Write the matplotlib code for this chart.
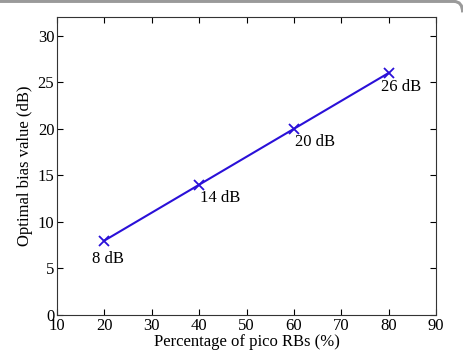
import matplotlib.pyplot as plt
from matplotlib.path import Path
from matplotlib.patches import PathPatch

pico_pct = [20, 40, 60, 80]
bias_db = [8, 14, 20, 26]
labels = ['8 dB', '14 dB', '20 dB', '26 dB']
offsets = [(3, -18), (1, -13), (1, -13), (-8, -14)]
aligns = ['center', 'left', 'left', 'left']

plt.rcParams['font.family'] = ['Liberation Serif', 'DejaVu Serif']
plt.rcParams['font.size'] = 12

fig = plt.figure(figsize=(4.64, 3.54), dpi=100)
ax = fig.add_axes([0.123, 0.110, 0.817, 0.842])

# grey frame line on top, bending down at the right corner
frame = Path([(0.0, 0.996), (0.978, 0.996), (0.997, 0.996), (0.997, 0.965)],
             [Path.MOVETO, Path.LINETO, Path.CURVE3, Path.CURVE3])
fig.patches.append(PathPatch(frame, transform=fig.transFigure, fill=False,
                             edgecolor='#9a9a9a', linewidth=2.2))

ax.plot(pico_pct, bias_db, color='#2a10d8', linewidth=1.5,
        marker='x', markersize=7, markeredgewidth=1.3)

for x, y, s, off, ha in zip(pico_pct, bias_db, labels, offsets, aligns):
    ax.annotate(s, (x, y), xytext=off, textcoords='offset pixels',
                ha=ha, va='center')

ax.set_xlim(10, 90)
ax.set_ylim(0, 32)
ax.set_xticks(range(10, 91, 10))
ax.set_yticks(range(0, 31, 5))
ax.tick_params(direction='in', top=True, right=True, length=4, pad=2)
for s in ax.spines.values():
    s.set_color('#333333')
ax.set_xlabel('Percentage of pico RBs (%)', labelpad=0)
ax.set_ylabel('Optimal bias value (dB)', labelpad=3)

fig.savefig('out.png', dpi=100)
